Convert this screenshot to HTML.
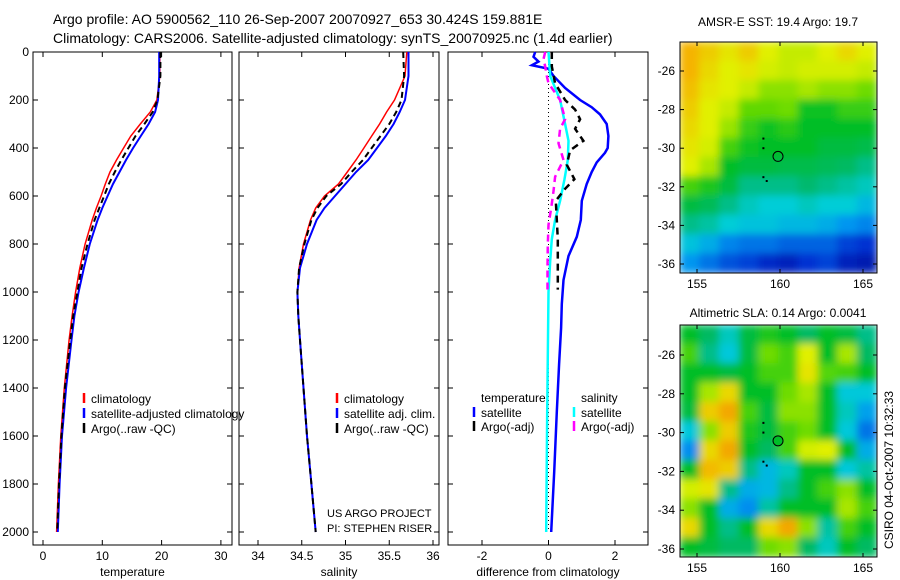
<!DOCTYPE html>
<html><head><meta charset="utf-8"><style>
body{margin:0;background:#fff;}
svg{display:block;font-family:"Liberation Sans",sans-serif;}
text{fill:#000;}
</style></head><body>
<svg id="root" width="900" height="580" viewBox="0 0 900 580">
<defs>
<filter id="blur1" x="0" y="0" width="1" height="1"><feGaussianBlur stdDeviation="4" edgeMode="duplicate"/></filter>
<clipPath id="clipA"><rect x="680" y="42" width="197" height="231"/></clipPath>
<clipPath id="clipB"><rect x="680" y="325" width="197" height="232"/></clipPath>
</defs>
<text x="53" y="24" font-size="14">Argo profile: AO 5900562_110 26-Sep-2007 20070927_653 30.424S 159.881E</text>
<text x="53" y="43" font-size="14">Climatology: CARS2006. Satellite-adjusted climatology: synTS_20070925.nc (1.4d earlier)</text>
<g id="p1"></g>
<g id="p2"></g>
<g id="p3"></g>
<g id="m1"></g>
<g id="m2"></g>
<text x="778" y="26" font-size="12" text-anchor="middle">AMSR-E SST: 19.4 Argo: 19.7</text>
<text x="778" y="317" font-size="12" text-anchor="middle">Altimetric SLA: 0.14 Argo: 0.0041</text>
<text transform="translate(893,470) rotate(-90)" font-size="12" text-anchor="middle">CSIRO 04-Oct-2007 10:32:33</text>
<text x="327" y="517" font-size="11">US ARGO PROJECT</text>
<text x="327" y="532" font-size="11">PI: STEPHEN RISER</text>
</svg>
<script>
// ---- profile data ----
const depths = [0,100,200,250,300,350,400,450,500,550,600,650,700,800,900,1000,1100,1200,1400,1600,1800,2000];
const tempClim = [19.7,19.7,19.2,18.1,16.4,14.8,13.6,12.4,11.3,10.5,9.8,9.0,8.3,7.1,6.2,5.5,4.9,4.4,3.6,3.0,2.6,2.3];
const tempSat = [19.6,19.6,19.4,18.9,17.8,16.5,15.2,14.0,12.9,11.8,10.9,10.0,9.2,7.9,6.9,6.0,5.3,4.8,3.9,3.2,2.8,2.5];
const tempArgo = [19.8,19.8,19.3,18.5,17.1,15.6,14.4,13.2,12.1,11.1,10.3,9.5,8.7,7.5,6.5,5.8,5.1,4.6,3.7,3.1,2.7,2.4];
const salClim = [35.70,35.68,35.56,35.47,35.39,35.30,35.21,35.12,35.02,34.92,34.76,34.66,34.60,34.52,34.47,34.45,34.46,34.48,34.52,34.56,34.61,34.66];
const salSat = [35.72,35.72,35.68,35.62,35.55,35.46,35.36,35.26,35.12,35.00,34.88,34.76,34.67,34.56,34.48,34.45,34.46,34.48,34.52,34.56,34.61,34.66];
const salArgo = [35.66,35.67,35.64,35.58,35.50,35.40,35.30,35.20,35.07,34.95,34.78,34.68,34.61,34.53,34.47,34.45,34.46,34.48,34.52,34.56,34.61,34.66];
const dTsatDepth = [0,20,40,55,70,100,150,200,230,260,300,350,400,420,460,500,550,620,700,770,850,950,1050,1150,1300,1500,1750,2000];
const dTsat = [-0.4,-0.45,-0.3,-0.5,0.0,0.15,0.5,0.95,1.3,1.55,1.75,1.8,1.78,1.7,1.45,1.3,1.15,1.0,0.97,0.85,0.6,0.45,0.4,0.38,0.32,0.25,0.17,0.08];
const dSsatDepth = [0,100,200,300,370,450,530,620,700,780,870,1000,1500,2000];
const dSsat = [0,0.05,0.35,0.5,0.6,0.58,0.48,0.35,0.2,0.1,0.05,0,-0.04,-0.07];
const dTargoDepth = [0,60,130,200,240,280,320,370,410,470,530,570,620,700,780,870,990];
const dTargo = [0.1,0.1,0.2,0.5,0.8,0.95,0.8,1.05,0.65,0.55,0.78,0.5,0.22,0.25,0.28,0.28,0.28];
const dSargoDepth = [0,30,60,100,130,200,280,320,380,450,520,580,650,720,800,900,990];
const dSargo = [-0.1,-0.15,-0.1,-0.05,0,0.35,0.5,0.35,0.3,0.45,0.2,0.15,0.08,0,-0.02,-0.03,-0.03];
const depthTicks = [0,200,400,600,800,1000,1200,1400,1600,1800,2000];
const tempTicks = [0,10,20,30];
const salTicks = [34,34.5,35,35.5,36];
const diffTicks = [-2,0,2];
// ---- map grids (colormap-scaled 0..1) ----
const sstGrid = [
[.76,.72,.68,.72,.66,.64,.64,.66,.70,.66],
[.76,.70,.66,.68,.65,.64,.65,.65,.65,.64],
[.74,.68,.66,.64,.60,.60,.62,.60,.60,.58],
[.72,.66,.64,.57,.57,.58,.51,.51,.54,.54],
[.70,.66,.61,.54,.51,.53,.50,.50,.50,.50],
[.68,.65,.55,.51,.50,.50,.50,.48,.48,.47],
[.66,.62,.50,.48,.48,.47,.47,.46,.45,.42],
[.55,.52,.48,.42,.42,.42,.44,.42,.40,.38],
[.48,.46,.42,.38,.36,.36,.38,.36,.36,.32],
[.42,.40,.36,.34,.34,.32,.32,.30,.26,.24],
[.34,.30,.24,.22,.22,.20,.20,.20,.16,.14],
[.26,.22,.18,.16,.12,.10,.14,.16,.10,.08]];
const slaGrid = [
[.50,.45,.38,.48,.52,.50,.45,.50,.48,.42],
[.55,.42,.35,.48,.58,.55,.66,.50,.62,.45],
[.50,.50,.48,.50,.55,.55,.68,.56,.55,.50],
[.50,.62,.70,.50,.50,.58,.62,.50,.35,.35],
[.48,.72,.78,.55,.48,.60,.60,.50,.38,.28],
[.35,.60,.72,.52,.48,.55,.58,.50,.35,.22],
[.25,.70,.78,.50,.45,.55,.65,.66,.50,.30],
[.50,.75,.72,.42,.32,.38,.50,.50,.35,.40],
[.65,.68,.42,.30,.32,.42,.50,.55,.60,.50],
[.60,.50,.30,.25,.40,.50,.50,.50,.62,.55],
[.70,.50,.42,.50,.70,.78,.60,.40,.55,.50],
[.50,.48,.45,.45,.58,.60,.45,.38,.50,.45]];
const lonTicks = [155,160,165];
const latTicks = [-26,-28,-30,-32,-34,-36];
const floatLon = 159.881, floatLat = -30.424;

const NS="http://www.w3.org/2000/svg";
function mk(parent,tag,attrs){const e=document.createElementNS(NS,tag);for(const k in attrs)e.setAttribute(k,attrs[k]);parent.appendChild(e);return e;}
const yD = d => 52 + d*0.24;

function panel(g,x0,x1,xs,ticks,label,showY){
  const box=mk(g,'rect',{x:x0,y:52,width:x1-x0,height:493,fill:'none',stroke:'#000','stroke-width':1});
  
  
  ticks.forEach(t=>{
    const x=xs(t);
    mk(g,'line',{x1:x,x2:x,y1:52,y2:57,stroke:'#000'});
    mk(g,'line',{x1:x,x2:x,y1:545,y2:540,stroke:'#000'});
    const tx=mk(g,'text',{x:x,y:560,'font-size':12,'text-anchor':'middle'});
    tx.textContent=t;
    
    
  });
  depthTicks.forEach(d=>{
    const y=yD(d);
    mk(g,'line',{x1:x0,x2:x0+5,y1:y,y2:y,stroke:'#000'});
    mk(g,'line',{x1:x1,x2:x1-5,y1:y,y2:y,stroke:'#000'});
    if(showY){const tx=mk(g,'text',{x:x0-4,y:y+4,'font-size':12,'text-anchor':'end'});tx.textContent=d;
      
      }
  });
  const lb=mk(g,'text',{x:(x0+x1)/2,y:576,'font-size':12,'text-anchor':'middle'});
  lb.textContent=label;
  
  
}
function line(g,xs,dep,vals,color,w,dash,name){
  const pts=vals.map((v,i)=>xs(v).toFixed(1)+','+yD(dep[i]).toFixed(1)).join(' ');
  const p=mk(g,'polyline',{points:pts,fill:'none',stroke:color,'stroke-width':w});
  if(dash)p.setAttribute('stroke-dasharray',dash);
  
  
}
function legend(g,x,y,color,text,name){
  mk(g,'line',{x1:x,x2:x,y1:y-10,y2:y,stroke:color,'stroke-width':2.5});
  const t=mk(g,'text',{x:x+7,y:y,'font-size':12});t.textContent=text;
  
  
}
// panel 1
const p1=document.getElementById('p1');
const xT=v=>43+v*5.93;
panel(p1,33,232,xT,tempTicks,'temperature',true);
line(p1,xT,depths,tempClim,'#f00',1.5,null,'temperature-climatology-line');
line(p1,xT,depths,tempSat,'#00f',2,null,'temperature-satellite-line');
line(p1,xT,depths,tempArgo,'#000',2,'6,4','temperature-argo-line');
legend(p1,84,403,'#f00','climatology','legend-climatology');
legend(p1,84,418,'#00f','satellite-adjusted climatology','legend-satellite');
legend(p1,84,433,'#000','Argo(..raw -QC)','legend-argo');
// panel 2
const p2=document.getElementById('p2');
const xS=v=>258+(v-34)*87.5;
panel(p2,239,439,xS,salTicks,'salinity',false);
line(p2,xS,depths,salClim,'#f00',1.5,null,'salinity-climatology-line');
line(p2,xS,depths,salSat,'#00f',2,null,'salinity-satellite-line');
line(p2,xS,depths,salArgo,'#000',2,'6,4','salinity-argo-line');
legend(p2,337,403,'#f00','climatology','legend-climatology');
legend(p2,337,418,'#00f','satellite adj. clim.','legend-satellite');
legend(p2,337,433,'#000','Argo(..raw -QC)','legend-argo');
// panel 3
const p3=document.getElementById('p3');
const xDf=v=>548.5+v*33.25;
panel(p3,448,648,xDf,diffTicks,'difference from climatology',false);
mk(p3,'line',{x1:548.5,x2:548.5,y1:60,y2:532,stroke:'#000','stroke-dasharray':'1,3'});
line(p3,xDf,dTsatDepth,dTsat,'#00f',2.5,null,'temperature-satellite-diff-line');
line(p3,xDf,dSsatDepth,dSsat,'#0ff',2.5,null,'salinity-satellite-diff-line');
line(p3,xDf,dTargoDepth,dTargo,'#000',2.5,'7,5','temperature-argo-diff-line');
line(p3,xDf,dSargoDepth,dSargo,'#f0f',2.5,'7,5','salinity-argo-diff-line');
{const t=mk(p3,'text',{x:481,y:402,'font-size':12});t.textContent='temperature';


const s=mk(p3,'text',{x:581,y:402,'font-size':12});s.textContent='salinity';

}
legend(p3,474,417,'#00f','satellite','legend-temp-satellite');
legend(p3,474,431,'#000','Argo(-adj)','legend-temp-argo');
legend(p3,574,417,'#0ff','satellite','legend-sal-satellite');
legend(p3,574,431,'#f0f','Argo(-adj)','legend-sal-argo');

// maps
const cmapStops=[[0,0,0,130],[0.14,0,50,210],[0.26,0,150,240],[0.36,0,205,215],[0.44,0,185,110],[0.5,0,190,40],[0.58,110,220,0],[0.66,225,240,0],[0.76,245,180,0],[0.88,230,110,0],[1,190,20,0]];
function jet(v){v=Math.max(0,Math.min(1,v));
  for(let i=1;i<cmapStops.length;i++){const a=cmapStops[i-1],b=cmapStops[i];
    if(v<=b[0]){const f=(v-a[0])/(b[0]-a[0]);
      return 'rgb('+Math.round(a[1]+f*(b[1]-a[1]))+','+Math.round(a[2]+f*(b[2]-a[2]))+','+Math.round(a[3]+f*(b[3]-a[3]))+')';}}
  return 'rgb(190,20,0)';}
function map(g,grid,top,bot,latY0,latStep,clip){
  const x0=680,x1=877,lonX=l=>697+(l-155)*16.6,latY=l=>latY0+(-26-l)/2*latStep;
  const cg=mk(g,'g',{'clip-path':'url(#'+clip+')'});
  const fg=mk(cg,'g',{filter:'url(#blur1)'});
  const rows=grid.length,cols=grid[0].length,cw=(x1-x0)/cols,ch=(bot-top)/rows;
  grid.forEach((row,i)=>row.forEach((v,j)=>{
    const c=mk(fg,'rect',{x:x0+j*cw-0.5,y:top+i*ch-0.5,width:cw+1,height:ch+1,fill:jet(v)});
    
    
  }));
  mk(g,'rect',{x:x0,y:top,width:x1-x0,height:bot-top,fill:'none',stroke:'#000'});
  lonTicks.forEach(l=>{const x=lonX(l);
    mk(g,'line',{x1:x,x2:x,y1:top,y2:top+4,stroke:'#000'});
    mk(g,'line',{x1:x,x2:x,y1:bot,y2:bot-4,stroke:'#000'});
    const t=mk(g,'text',{x:x,y:bot+15,'font-size':12,'text-anchor':'middle'});t.textContent=l;
    
    });
  latTicks.forEach(l=>{const y=latY(l);
    mk(g,'line',{x1:x0,x2:x0+4,y1:y,y2:y,stroke:'#000'});
    mk(g,'line',{x1:x1,x2:x1-4,y1:y,y2:y,stroke:'#000'});
    const t=mk(g,'text',{x:x0-5,y:y+4,'font-size':12,'text-anchor':'end'});t.textContent=l;
    
    });
  [[159.0,-29.5],[159.0,-30.0],[159.0,-31.5],[159.2,-31.7]].forEach(p=>{
    mk(g,'rect',{x:lonX(p[0])-1,y:latY(p[1])-1,width:2,height:2,fill:'#000'});});
  return {x:lonX(floatLon),y:latY(floatLat)};
}
const c1=map(document.getElementById('m1'),sstGrid,42,273,71,38.6,'clipA');
const fc1=mk(document.getElementById('m1'),'circle',{cx:c1.x,cy:c1.y,r:5,fill:'none',stroke:'#000'});


const c2=map(document.getElementById('m2'),slaGrid,325,557,355,38.8,'clipB');
const fc2=mk(document.getElementById('m2'),'circle',{cx:c2.x,cy:c2.y,r:5,fill:jet(0.5),stroke:'#000'});


</script>
</body></html>
